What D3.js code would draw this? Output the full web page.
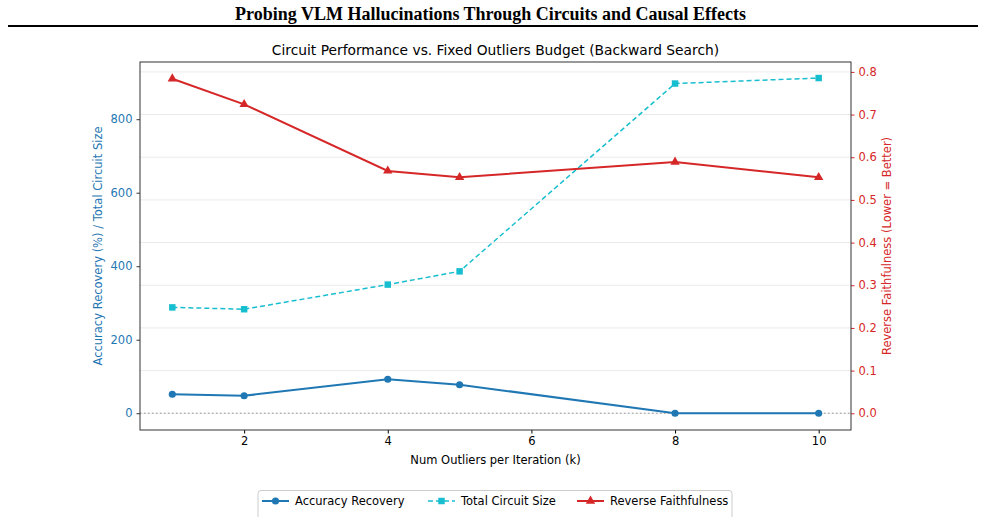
<!DOCTYPE html>
<html>
<head>
<meta charset="utf-8">
<script src="https://cdn.jsdelivr.net/npm/d3@7"></script>
<style>
  html, body { margin: 0; padding: 0; background: #fff; }
  svg text { font-family: "DejaVu Sans", sans-serif; }
</style>
</head>
<body>
<div id="chart"></div>
<script>
// data
const ks = [1, 2, 4, 5, 8, 10];
const accuracyRecovery = [51.7, 47.6, 92.5, 77.6, 0, 0];
const circuitSize = [288, 283, 350, 386, 897, 912];
const reverseFaith = [0.784, 0.724, 0.568, 0.553, 0.589, 0.553];
const leftTicks = [0, 200, 400, 600, 800];
const rightTicks = [0, 0.1, 0.2, 0.3, 0.4, 0.5, 0.6, 0.7, 0.8];
const xTicks = [2, 4, 6, 8, 10];

const W = 985, H = 517;
const M = { left: 140, right: 851, top: 62, bottom: 430 };
const BLUE = "#1f77b4", CYAN = "#17becf", RED = "#d62728";
const FS = "11.5px";

const svg = d3.select("#chart").append("svg")
  .attr("width", W).attr("height", H);

// page header
svg.append("text")
  .attr("x", W / 2 - 2).attr("y", 20)
  .attr("text-anchor", "middle")
  .style("font-family", "'Liberation Serif', 'Times New Roman', serif")
  .style("font-weight", "bold")
  .style("font-size", "18px")
  .text("Probing VLM Hallucinations Through Circuits and Causal Effects");
svg.append("line")
  .attr("x1", 8).attr("x2", 978).attr("y1", 26).attr("y2", 26)
  .attr("stroke", "#000").attr("stroke-width", 2);

svg.append("text")
  .attr("x", (M.left + M.right) / 2).attr("y", 55)
  .attr("text-anchor", "middle")
  .style("font-size", "13.8px")
  .text("Circuit Performance vs. Fixed Outliers Budget (Backward Search)");

const x = d3.scaleLinear().domain([0.55, 10.45]).range([M.left, M.right]);
const yL = d3.scaleLinear().domain([-45.6, 955.6]).range([M.bottom, M.top]);
const yR = d3.scaleLinear().domain([-0.0392, 0.8232]).range([M.bottom, M.top]);

// grid from right axis
svg.append("g").selectAll("line").data(rightTicks).join("line")
  .attr("x1", M.left).attr("x2", M.right)
  .attr("y1", d => yR(d)).attr("y2", d => yR(d))
  .attr("stroke", "#e6e6e6").attr("stroke-width", 0.8);

// zero reference
svg.append("line")
  .attr("x1", M.left).attr("x2", M.right)
  .attr("y1", yL(0)).attr("y2", yL(0))
  .attr("stroke", "#999").attr("stroke-width", 1)
  .attr("stroke-dasharray", "1.5,2.5");

// axes
const xAxis = svg.append("g")
  .attr("transform", `translate(0,${M.bottom})`)
  .call(d3.axisBottom(x).tickValues(xTicks).tickSize(3.5).tickPadding(3).tickSizeOuter(0));
const lAxis = svg.append("g")
  .attr("transform", `translate(${M.left},0)`)
  .call(d3.axisLeft(yL).tickValues(leftTicks).tickSize(3.5).tickPadding(4).tickSizeOuter(0));
const rAxis = svg.append("g")
  .attr("transform", `translate(${M.right},0)`)
  .call(d3.axisRight(yR).tickValues(rightTicks).tickFormat(d3.format(".1f")).tickSize(3.5).tickPadding(4).tickSizeOuter(0));

[xAxis, lAxis, rAxis].forEach(a => {
  a.select(".domain").remove();
  a.selectAll("text").style("font-size", FS).style("font-family", "'DejaVu Sans', sans-serif");
});
xAxis.selectAll("line").attr("stroke", "#000");
xAxis.selectAll("text").attr("fill", "#000");
lAxis.selectAll("line").attr("stroke", "#333");
lAxis.selectAll("text").attr("fill", BLUE);
rAxis.selectAll("line").attr("stroke", RED);
rAxis.selectAll("text").attr("fill", RED);

// frame
svg.append("rect")
  .attr("x", M.left).attr("y", M.top)
  .attr("width", M.right - M.left).attr("height", M.bottom - M.top)
  .attr("fill", "none").attr("stroke", "#333").attr("stroke-width", 1);

// axis labels
svg.append("text")
  .attr("x", (M.left + M.right) / 2).attr("y", 464)
  .attr("text-anchor", "middle").style("font-size", FS)
  .text("Num Outliers per Iteration (k)");
svg.append("text")
  .attr("transform", `translate(102,${(M.top + M.bottom) / 2}) rotate(-90)`)
  .attr("text-anchor", "middle").style("font-size", FS).attr("fill", BLUE)
  .text("Accuracy Recovery (%) / Total Circuit Size");
svg.append("text")
  .attr("transform", `translate(891,${(M.top + M.bottom) / 2}) rotate(-90)`)
  .attr("text-anchor", "middle").style("font-size", FS).attr("fill", RED)
  .text("Reverse Faithfulness (Lower = Better)");

// series
const series = [
  { name: "Accuracy Recovery", values: accuracyRecovery, y: yL, color: BLUE, dash: null, width: 2, marker: "circle" },
  { name: "Total Circuit Size", values: circuitSize, y: yL, color: CYAN, dash: "5,3", width: 1.5, marker: "square" },
  { name: "Reverse Faithfulness", values: reverseFaith, y: yR, color: RED, dash: null, width: 2, marker: "triangle" }
];

const symbols = { circle: d3.symbolCircle, square: d3.symbolSquare, triangle: d3.symbolTriangle };
const symSize = { circle: 40, square: 42, triangle: 38 };

series.forEach(s => {
  const pts = ks.map((k, i) => [k, s.values[i]]);
  const line = d3.line().x(d => x(d[0])).y(d => s.y(d[1]));
  svg.append("path").datum(pts)
    .attr("d", line).attr("fill", "none")
    .attr("stroke", s.color).attr("stroke-width", s.width)
    .attr("stroke-dasharray", s.dash);
  svg.append("g").selectAll("path").data(pts).join("path")
    .attr("transform", d => `translate(${x(d[0])},${s.y(d[1])})`)
    .attr("d", d3.symbol(symbols[s.marker], symSize[s.marker]))
    .attr("fill", s.color);
});

// legend
const lg = svg.append("g").attr("transform", "translate(258,490.5)");
lg.append("rect").attr("width", 474).attr("height", 30)
  .attr("rx", 3).attr("fill", "#fff").attr("stroke", "#ccc").attr("stroke-width", 1);
const itemX = [4, 170, 319];
series.forEach((s, i) => {
  const g = lg.append("g").attr("transform", `translate(${itemX[i]},10.5)`);
  g.append("line").attr("x1", 0).attr("x2", 27).attr("y1", 0).attr("y2", 0)
    .attr("stroke", s.color).attr("stroke-width", s.width).attr("stroke-dasharray", s.dash);
  g.append("path").attr("transform", "translate(13.5,0)")
    .attr("d", d3.symbol(symbols[s.marker], symSize[s.marker]))
    .attr("fill", s.color);
  g.append("text").attr("x", 33).attr("y", 4).style("font-size", FS).text(s.name);
});
</script>
</body>
</html>
